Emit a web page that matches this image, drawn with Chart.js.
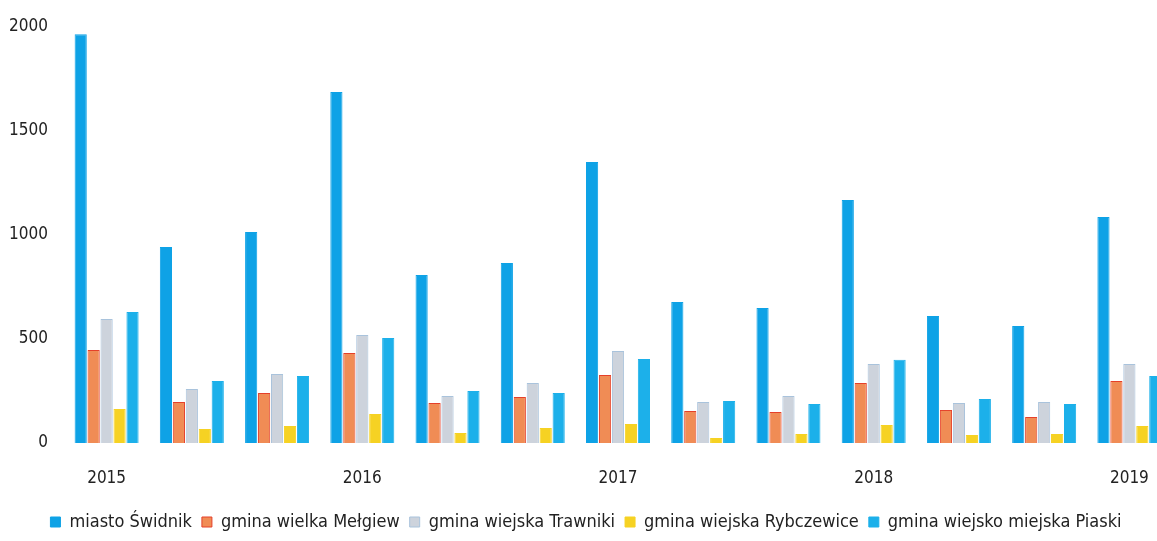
<!DOCTYPE html>
<html>
<head>
<meta charset="utf-8">
<script src="https://cdn.jsdelivr.net/npm/chart.js@4/dist/chart.umd.min.js"></script>
<style>
  html, body { margin: 0; padding: 0; background: #fff; overflow: hidden; }
  #wrap { width: 1172px; height: 541px; }
</style>
</head>
<body>
<div id="wrap"><canvas id="chart"></canvas></div>
<script>
// categories: 13 groups, year label shown on every third
const categories = ['2015', '', '', '2016', '', '', '2017', '', '', '2018', '', '', '2019'];

const swidnik     = [1965, 942, 1014, 1688, 808, 865, 1351, 678, 649, 1168, 611, 562, 1087];
const melgiew     = [447, 197, 240, 433, 192, 221, 327, 154, 149, 288, 159, 125, 298];
const trawniki    = [596, 260, 332, 519, 226, 288, 442, 197, 226, 380, 192, 197, 380];
const rybczewice  = [163, 67, 82, 139, 48, 72, 91, 24, 43, 87, 38, 43, 82];
const piaski      = [630, 298, 322, 505, 250, 240, 404, 202, 188, 400, 212, 188, 322];

const yTicks = [0, 500, 1000, 1500, 2000];

const font = { family: "'Liberation Sans Narrow', 'DejaVu Sans Condensed', sans-serif", size: 17 };
const legendFont = { family: font.family, size: 18 };

function series(label, data, bg, border) {
  return {
    label: label,
    data: data,
    backgroundColor: bg,
    borderColor: border,
    borderWidth: 1,
    barPercentage: 0.94,
    categoryPercentage: 0.76
  };
}

const ctx = document.getElementById('chart').getContext('2d');
new Chart(ctx, {
  type: 'bar',
  data: {
    labels: categories,
    datasets: [
      series('miasto Świdnik', swidnik, '#0ea2e6', '#0ea2e6'),
      series('gmina wielka Mełgiew', melgiew, '#f08c55', '#e5402a'),
      series('gmina wiejska Trawniki', trawniki, '#cdd3dc', '#a9c3dc'),
      series('gmina wiejska Rybczewice', rybczewice, '#f6d223', '#f6d223'),
      series('gmina wiejsko miejska Piaski', piaski, '#1cb0ea', '#1cb0ea')
    ]
  },
  options: {
    responsive: true,
    maintainAspectRatio: false,
    animation: false,
    layout: { padding: { top: 27, left: 0, right: 0, bottom: 0 } },
    plugins: {
      legend: {
        position: 'bottom',
        labels: {
          font: legendFont,
          color: '#222',
          boxWidth: 10,
          boxHeight: 10,
          padding: 10
        }
      },
      tooltip: { enabled: false }
    },
    scales: {
      x: {
        grid: { display: false },
        border: { display: false },
        ticks: {
          font: font,
          color: '#222',
          autoSkip: false,
          maxRotation: 0,
          padding: 17
        },
        afterFit: function(scale) { scale.height = 60; }
      },
      y: {
        min: 0,
        max: 2000,
        grid: { display: false },
        border: { display: false },
        afterBuildTicks: function(scale) {
          scale.ticks = yTicks.map(v => ({ value: v }));
        },
        ticks: {
          font: font,
          color: '#222',
          padding: 8,
          callback: v => String(v)
        },
        afterFit: function(scale) { scale.width = 64; }
      }
    }
  }
});
</script>
</body>
</html>
